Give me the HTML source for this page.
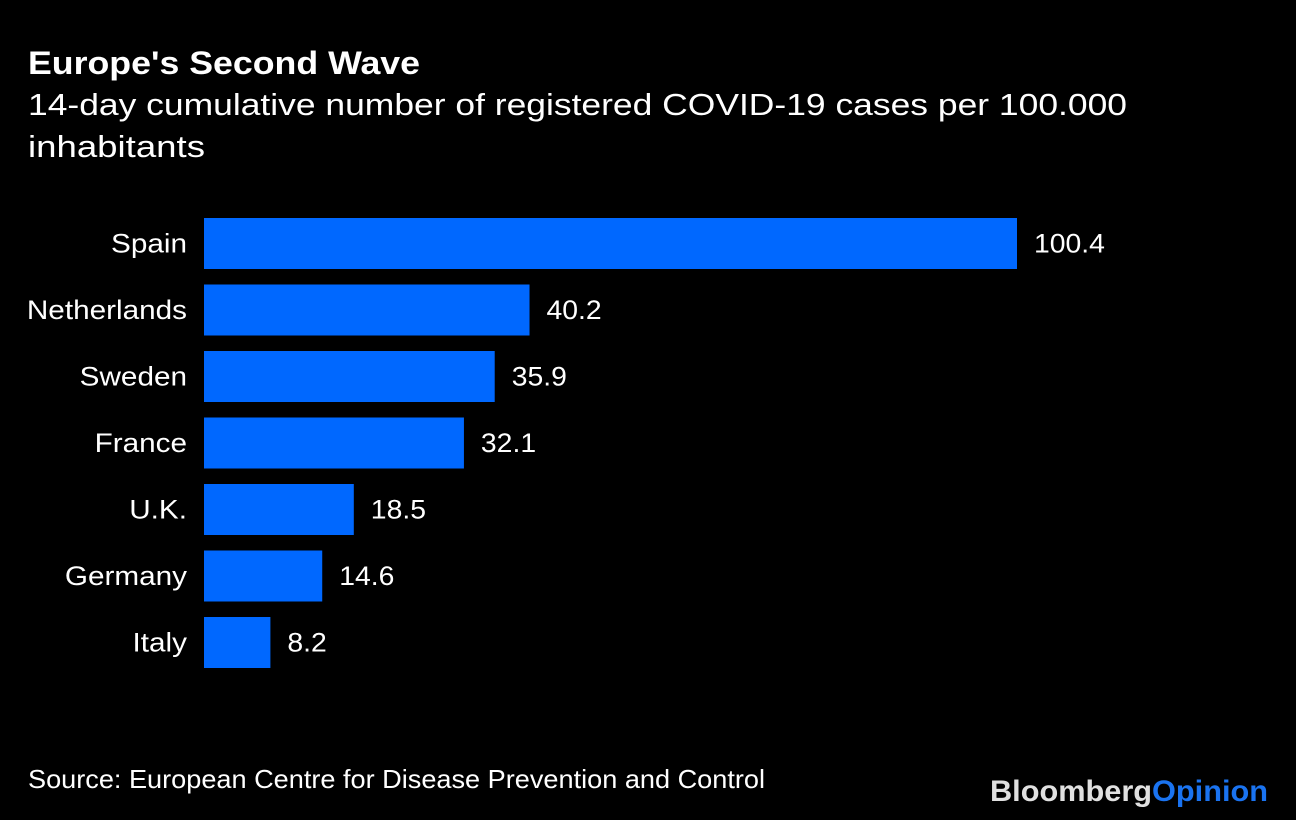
<!DOCTYPE html>
<html><head><meta charset="utf-8"><style>
body{margin:0;background:#000;width:1296px;height:820px;overflow:hidden;font-family:"Liberation Sans",Arial,sans-serif;color:#fff}
svg{display:block}
</style></head><body>
<svg width="1296" height="820">
<text x="28" y="74" font-size="32" font-weight="bold" fill="#fff" textLength="392" lengthAdjust="spacingAndGlyphs">Europe's Second Wave</text>
<text x="28" y="115" font-size="31" fill="#fff" textLength="1099" lengthAdjust="spacingAndGlyphs">14-day cumulative number of registered COVID-19 cases per 100.000</text>
<text x="28" y="157" font-size="31" fill="#fff" textLength="177" lengthAdjust="spacingAndGlyphs">inhabitants</text>
<g id="bars"></g>
<text x="28" y="788" font-size="26" fill="#fff" textLength="737" lengthAdjust="spacingAndGlyphs">Source: European Centre for Disease Prevention and Control</text>
<text x="990" y="801" font-size="30" font-weight="bold" textLength="278" lengthAdjust="spacingAndGlyphs"><tspan fill="#e0e0e0">Bloomberg</tspan><tspan fill="#1a73f0">Opinion</tspan></text>
</svg>
<script>
const categories=["Spain","Netherlands","Sweden","France","U.K.","Germany","Italy"];
const values=[100.4,40.2,35.9,32.1,18.5,14.6,8.2];
const labels=["100.4","40.2","35.9","32.1","18.5","14.6","8.2"];
const x0=204, scale=813/100.4, top0=218, step=66.5, bh=51;
const xs=v=>x0+v*scale, ys=i=>top0+i*step;
const g=document.getElementById('bars');
const ns="http://www.w3.org/2000/svg";
categories.forEach((c,i)=>{
  const r=document.createElementNS(ns,'rect');
  r.setAttribute('x',x0);r.setAttribute('y',ys(i));r.setAttribute('width',xs(values[i])-x0);r.setAttribute('height',bh);r.setAttribute('fill','#0068ff');
  
  
  g.appendChild(r);
  const t=document.createElementNS(ns,'text');
  t.setAttribute('x',187);t.setAttribute('y',ys(i)+bh/2+9);t.setAttribute('font-size','27');t.setAttribute('fill','#fff');t.setAttribute('text-anchor','end');
  t.setAttribute('transform','translate(187 0) scale(1.1 1) translate(-187 0)');
  t.textContent=c;
  
  
  g.appendChild(t);
  const vx=xs(values[i])+17;
  const v=document.createElementNS(ns,'text');
  v.setAttribute('x',vx);v.setAttribute('y',ys(i)+bh/2+9);v.setAttribute('font-size','27');v.setAttribute('fill','#fff');
  v.setAttribute('transform','translate('+vx+' 0) scale(1.05 1) translate('+(-vx)+' 0)');
  v.textContent=labels[i];
  
  
  g.appendChild(v);
});
</script>
</body></html>
